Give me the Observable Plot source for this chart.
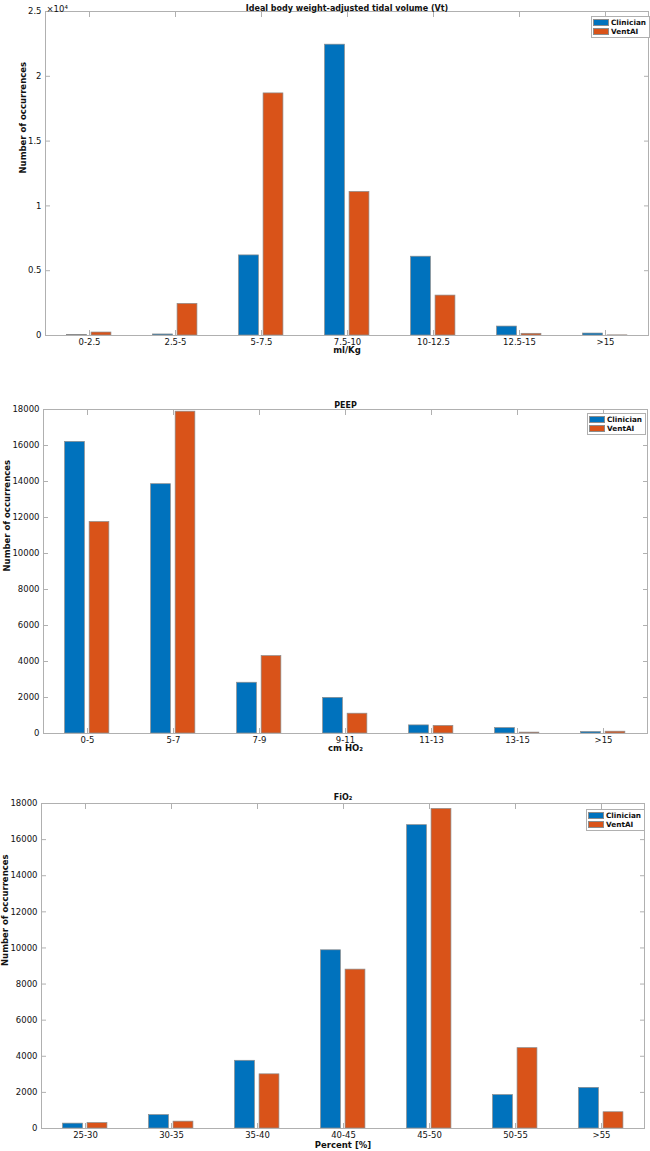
<!DOCTYPE html>
<html><head><meta charset="utf-8">
<script src="https://cdn.jsdelivr.net/npm/d3@7"></script>
<script src="https://cdn.jsdelivr.net/npm/@observablehq/plot@0.6"></script>
<style>
body{margin:0;background:#fff;font-family:"DejaVu Sans",sans-serif;}
.panel{position:relative;width:650px;}
.panel svg{display:block;}
.legend{position:absolute;background:#fff;border:1px solid #b0b0b0;padding:1px 3px 1px 1px;font:bold 7.3px "DejaVu Sans",sans-serif;color:#111;}
.legend .row{display:flex;align-items:center;height:9px;}
.legend .sw{width:16px;height:7px;margin-right:2px;box-sizing:border-box;border:0.6px solid #8c8c8c;}
</style></head><body><div id="root"></div>
<script>
const series = ["Clinician", "VentAI"];
const seriesColors = ["#0072BD", "#D95319"];

const vtCategories = ["0-2.5", "2.5-5", "5-7.5", "7.5-10", "10-12.5", "12.5-15", ">15"];
const vtClinician = [40, 80, 6180, 22440, 6080, 690, 150];
const vtVentAI = [230, 2440, 18680, 11080, 3080, 130, 10];
const vtTicks = [0, 5000, 10000, 15000, 20000, 25000];

const peepCategories = ["0-5", "5-7", "7-9", "9-11", "11-13", "13-15", ">15"];
const peepClinician = [16200, 13850, 2820, 1980, 450, 300, 80];
const peepVentAI = [11750, 17880, 4300, 1100, 420, 50, 100];

const fio2Categories = ["25-30", "30-35", "35-40", "40-45", "45-50", "50-55", ">55"];
const fio2Clinician = [270, 740, 3750, 9870, 16800, 1850, 2250];
const fio2VentAI = [300, 380, 3000, 8800, 17700, 4450, 900];

const countTicks = [0, 2000, 4000, 6000, 8000, 10000, 12000, 14000, 16000, 18000];

const panels = [
  {title: "Ideal body weight-adjusted tidal volume (Vt)", xLabel: "ml/Kg", categories: vtCategories,
   values: [vtClinician, vtVentAI], yMax: 25000, ticks: vtTicks, format: d => String(d / 1e4), exponent: "×10⁴",
   height: 380, mt: 11, mb: 45, ml: 45, mr: 2, yLabelDx: -22, titleDy: -6, xLabelDy: 17, legend: [591, 16]},
  {title: "PEEP", xLabel: "cm HO₂", categories: peepCategories,
   values: [peepClinician, peepVentAI], yMax: 18000, ticks: countTicks, format: d => String(d),
   height: 390, mt: 29, mb: 37, ml: 43, mr: 3, yLabelDx: -36, titleDy: -7, xLabelDy: 17, legend: [587, 33]},
  {title: "FiO₂", xLabel: "Percent [%]", categories: fio2Categories,
   values: [fio2Clinician, fio2VentAI], yMax: 18000, ticks: countTicks, format: d => String(d),
   height: 381, mt: 33, mb: 23, ml: 41, mr: 6, yLabelDx: -36, titleDy: -9, xLabelDy: 19, legend: [586, 39]}
];

const axisColor = "#b0b0b0";
const root = document.getElementById("root");

for (const p of panels) {
  const rows = p.categories.flatMap((c, i) => series.map((s, j) => ({category: c, series: s, value: p.values[j][i]})));
  const bw = (650 - p.ml - p.mr) / p.categories.length;
  const inset = (bw - 20) / 2;
  const offsets = [-12.5, 12];
  const marks = [
    ...series.map((s, j) => Plot.barY(rows.filter(r => r.series === s), {
      x: "category", y: "value", fill: seriesColors[j], stroke: "#8c8c8c", strokeWidth: 0.7,
      insetLeft: inset, insetRight: inset, dx: offsets[j]
    })),
    Plot.frame({stroke: axisColor}),
    Plot.axisX({anchor: "bottom", tickSize: -5, fill: "none", stroke: axisColor, label: null}),
    Plot.axisX({anchor: "top", tickSize: -5, fill: "none", stroke: axisColor, label: null}),
    Plot.axisX({anchor: "bottom", tickSize: 0, tickPadding: 3, fill: "#111", fontSize: 8.5, label: null}),
    Plot.axisY({anchor: "left", ticks: p.ticks, tickSize: -5, fill: "none", stroke: axisColor, label: null}),
    Plot.axisY({anchor: "right", ticks: p.ticks, tickSize: -5, fill: "none", stroke: axisColor, label: null}),
    Plot.axisY({anchor: "left", ticks: p.ticks, tickSize: 0, tickPadding: 4, tickFormat: p.format, fill: "#111", fontSize: 8.5, label: null}),
    Plot.text([p.title], {frameAnchor: "top", dy: p.titleDy, fontWeight: "bold", fontSize: 8, fill: "#111"}),
    Plot.text([p.xLabel], {frameAnchor: "bottom", dy: p.xLabelDy, fontWeight: "bold", fontSize: 8.5, fill: "#111"}),
    Plot.text(["Number of occurrences"], {frameAnchor: "left", rotate: -90, dx: p.yLabelDx, fontWeight: "bold", fontSize: 8.5, fill: "#111"})
  ];
  if (p.exponent) marks.push(Plot.text([p.exponent], {frameAnchor: "top-left", textAnchor: "start", dx: 1, dy: -6, fontSize: 8.5, fill: "#111"}));
  const chart = Plot.plot({
    width: 650, height: p.height,
    marginTop: p.mt, marginBottom: p.mb, marginLeft: p.ml, marginRight: p.mr,
    style: {fontFamily: "DejaVu Sans, sans-serif", fontSize: "8.5px", background: "#fff"},
    x: {type: "band", domain: p.categories, padding: 0},
    y: {domain: [0, p.yMax]},
    marks
  });
  const div = document.createElement("div");
  div.className = "panel";
  div.style.height = p.height + "px";
  div.appendChild(chart);
  const lg = d3.select(div).append("div").attr("class", "legend")
    .style("left", p.legend[0] + "px").style("top", p.legend[1] + "px");
  series.forEach((s, j) => {
    const row = lg.append("div").attr("class", "row");
    row.append("div").attr("class", "sw").style("background", seriesColors[j]);
    row.append("span").text(s);
  });
  root.appendChild(div);
}
</script></body></html>
